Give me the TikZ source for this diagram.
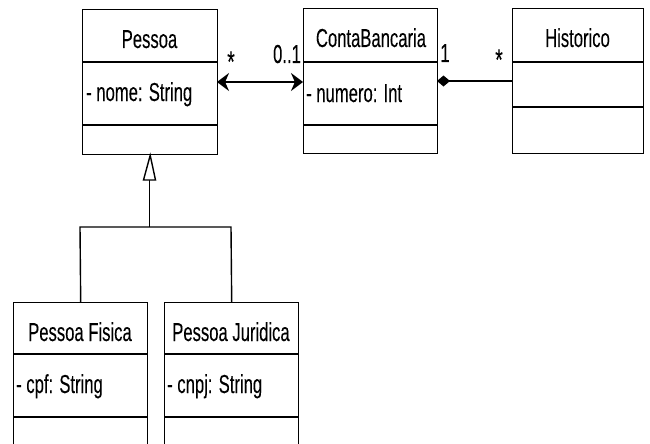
\documentclass[tikz,border=0pt]{standalone}
\usepackage{fontspec}
\setmainfont{Liberation Sans}[FakeStretch=0.64,FakeBold=0.1]
\usetikzlibrary{arrows.meta}
\begin{document}
\begin{tikzpicture}[x=1pt,y=-1pt,
  classbox/.style={draw=black, line width=1.4pt, rectangle, inner sep=0pt, anchor=north west},
  divider/.style={line width=1.4pt},
  txt/.style={font=\fontsize{26}{26}\selectfont, inner sep=0pt},
  title/.style={txt, anchor=base},
  attr/.style={txt, anchor=base west},
  mult/.style={txt, anchor=base},
  star/.style={font=\fontsize{30}{30}\selectfont, inner sep=0pt, anchor=base},
  assoc/.style={line width=2.6pt, {Stealth[length=12pt,width=18pt]}-{Stealth[length=12pt,width=18pt]}},
  compo/.style={line width=2.6pt, {Diamond[length=13pt,width=11pt]}-},
  gener/.style={line width=1.4pt},
]
\useasboundingbox (0,0) rectangle (650,444);
% class boxes
\node[classbox, minimum width=135pt, minimum height=145pt] (pessoa) at (82,9) {};
\node[classbox, minimum width=134pt, minimum height=145pt] (conta) at (303,8) {};
\node[classbox, minimum width=131pt, minimum height=145pt] (hist) at (512,8) {};
\node[classbox, minimum width=134pt, minimum height=160pt] (pf) at (13,302) {};
\node[classbox, minimum width=134pt, minimum height=160pt] (pj) at (164,302) {};
% dividers
\draw[divider] (82,62) -- (217,62) (82,125) -- (217,125);
\draw[divider] (303,62) -- (437,62) (303,125) -- (437,125);
\draw[divider] (512,62) -- (643,62) (512,107) -- (643,107);
\draw[divider] (13,354) -- (147,354) (13,417) -- (147,417);
\draw[divider] (164,354) -- (298,354) (164,417) -- (298,417);
% texts
\node[title] (pessoaT) at (149.5,48) {Pessoa};
\node[attr] (pessoaA) at (86,101) {- nome: String};
\node[title] (contaT) at (371,47) {ContaBancaria};
\node[attr] (contaA) at (306,102) {- numero: Int};
\node[title] (histT) at (577.5,47) {Historico};
\node[title] (pfT) at (80,341) {Pessoa Fisica};
\node[attr] (pfA) at (16,393) {- cpf: String};
\node[title] (pjT) at (231,341) {Pessoa Juridica};
\node[attr] (pjA) at (167,393) {- cnpj: String};
% association Pessoa <-> ContaBancaria
\coordinate (pR) at (217,82);
\coordinate (cL) at (303,82);
\draw[assoc] (pR) -- (cL);
\node[star] (m1) at (231,72) {*};
\node[mult] (m2) at (287,63) {0..1};
% composition ContaBancaria <>-- Historico
\coordinate (cR) at (437,81);
\coordinate (hL) at (512,81);
\draw[compo] (cR) -- (hL);
\node[mult] (m3) at (445,62) {1};
\node[star] (m4) at (499,70) {*};
% generalization
\coordinate (j) at (149.5,227);
\coordinate (jl) at (80,227);
\coordinate (jr) at (231,227);
\draw[gener] (149.5,180) -- (j);
\draw[gener] (pf.north) -- (jl) -- (jr) -- (pj.north);
\draw[gener, fill=white] (pessoa.south) -- (143.5,180) -- (155.5,180) -- cycle;
\end{tikzpicture}
\end{document}
